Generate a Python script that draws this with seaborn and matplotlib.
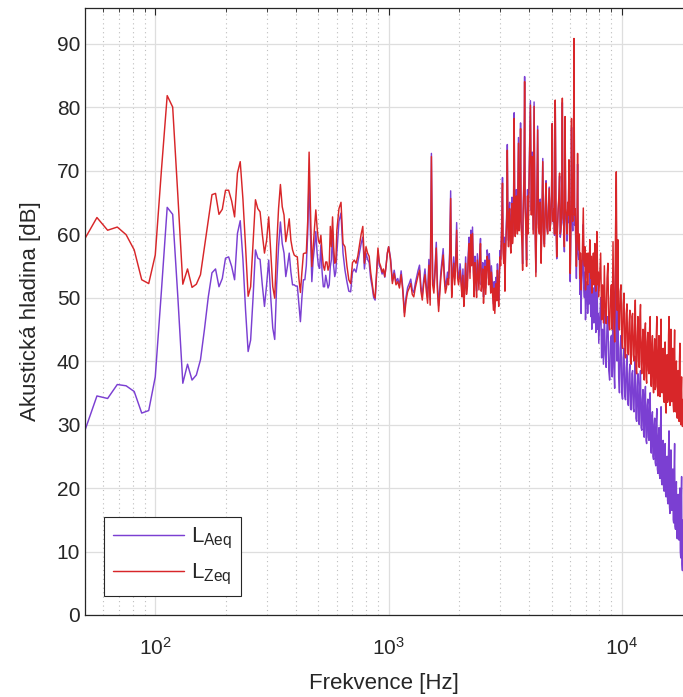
import numpy as np
import pandas as pd
import matplotlib
matplotlib.use("Agg")
import matplotlib.pyplot as plt
import seaborn as sns
from matplotlib.ticker import LogLocator, FixedLocator

# Spektrum akusticke hladiny, FFT s rozlisenim 6.25 Hz
DF_HZ = 6.25
bins_low = np.arange(8, 97)          # 50 - 600 Hz, kazdy bin
bins_600 = np.arange(98, 161, 2)     # 612.5 - 1000 Hz
bins_1k = np.arange(163, 320, 3)     # 1 - 2 kHz
bins_2k = np.arange(324, 637, 3)     # 2 - 4 kHz
bins_4k = np.arange(648, 1273, 6)    # 4 - 8 kHz
bins_8k = np.arange(1296, 2953, 12)  # 8 - 18.5 kHz

# LZeq [dB]
lzeq_low = [59.3, 62.6, 60.6, 61.1, 59.9, 57.5, 52.8, 52.2,
            56.7, 70.0, 81.8, 80.0, 66.0, 52.1, 54.5, 51.6,
            52.1, 53.6, 58.0, 62.2, 66.2, 66.4, 63.1, 63.9,
            66.9, 66.9, 65.2, 62.7, 69.6, 71.4, 65.5, 58.0,
            50.2, 51.7, 58.5, 65.4, 64.0, 63.5, 60.0, 57.0,
            59.0, 62.7, 57.0, 51.7, 49.9, 58.0, 64.0, 67.8,
            64.3, 63.0, 58.8, 60.5, 62.4, 59.0, 57.5, 56.7,
            56.5, 56.4, 53.0, 50.8, 54.0, 56.9, 57.0, 57.0,
            62.0, 72.9, 64.0, 54.9, 58.0, 61.0, 63.8, 61.0,
            59.0, 58.5, 59.8, 57.0, 55.0, 54.3, 55.6, 55.6,
            54.3, 55.0, 61.2, 58.0, 62.7, 58.0, 55.4, 55.6, 60.6]
lzeq_600 = [64.0, 65.0, 58.5, 58.0, 55.0, 52.8, 52.2, 55.5,
            55.9, 55.4, 56.5, 58.3, 60.0, 61.2, 55.4, 58.0,
            57.0, 56.5, 54.0, 52.2, 50.5, 49.9, 54.0, 57.8,
            55.5, 54.9, 54.0, 54.5, 53.3, 55.0, 57.0, 58.0]
lzeq_1k = [55.9, 52.2, 53.8, 52.0, 52.5, 51.5, 53.6, 51.0, 47.0, 49.5,
           50.9, 51.5, 52.2, 50.5, 50.1, 51.5, 52.5, 53.5, 54.3, 51.0,
           49.6, 52.0, 53.6, 51.0, 49.1, 55.1, 48.8, 72.2, 52.0, 50.7,
           54.0, 57.8, 51.0, 47.8, 50.5, 53.3, 55.0, 56.7, 53.0, 50.7,
           51.5, 53.0, 52.0, 56.0, 65.6, 50.0, 53.0, 55.4, 52.0, 55.0,
           60.6, 53.0, 52.0]
lzeq_2k = [54.3, 52.0, 50.1, 53.5, 48.6, 51.0, 55.4, 50.5, 51.7, 56.0,
           58.5, 53.0, 59.9, 55.0, 60.1, 54.0, 50.1, 55.5, 53.0, 50.0,
           55.9, 53.5, 51.2, 56.0, 58.5, 51.0, 52.2, 54.5, 49.1, 52.5,
           54.9, 50.5, 53.3, 56.5, 55.4, 52.0, 55.9, 53.0, 50.7, 54.0,
           52.0, 50.0, 48.0, 51.5, 47.5, 50.0, 52.2, 49.5, 54.3, 51.0,
           48.6, 53.0, 56.4, 55.0, 58.0, 62.0, 68.0, 57.0, 55.4, 58.5,
           51.0, 57.0, 60.0, 62.5, 73.2, 61.0, 58.0, 63.0, 64.0, 59.0,
           57.0, 62.0, 64.8, 58.5, 60.0, 65.0, 78.2, 63.0, 59.6, 64.0,
           66.0, 61.5, 60.0, 66.5, 74.3, 60.5, 62.0, 67.0, 76.6, 61.0,
           60.0, 58.0, 54.3, 63.0, 66.0, 70.0, 84.0, 64.0, 62.0, 59.0,
           54.9, 62.5, 66.0, 60.0, 63.0]
lzeq_4k = [80.3, 63.0, 72.2, 60.0, 80.1, 62.0, 53.3, 64.0, 76.4, 61.0,
           60.0, 65.0, 55.4, 62.0, 71.4, 60.0, 58.0, 64.0, 68.0, 61.0,
           60.0, 63.5, 67.2, 60.5, 62.0, 66.0, 77.4, 62.0, 64.0, 60.0,
           81.1, 63.0, 56.4, 61.0, 64.0, 66.0, 69.6, 60.0, 61.0, 65.0,
           81.4, 62.5, 62.0, 58.0, 78.5, 64.0, 62.7, 60.0, 65.0, 63.0,
           71.7, 61.0, 53.8, 62.0, 78.2, 64.0, 62.0, 67.0, 90.8, 63.0,
           64.0, 60.0, 54.9, 61.0, 72.7, 59.0, 57.5, 60.0, 53.0, 57.0,
           51.2, 55.0, 56.0, 60.0, 64.1, 56.0, 55.0, 58.0, 51.2, 54.0,
           55.9, 57.0, 52.0, 55.5, 57.0, 54.0, 59.1, 55.0, 53.0, 56.5,
           50.7, 53.0, 55.0, 57.0, 52.0, 55.0, 58.5, 54.0, 51.0, 55.0,
           60.4, 56.0, 52.0, 54.0, 50.1]
lzeq_8k = [57.0, 46.5, 52.0, 46.0, 55.0, 47.5, 45.9, 53.0, 55.4, 46.0,
           44.9, 50.0, 52.0, 45.0, 58.8, 47.0, 43.0, 60.0, 69.8, 48.0,
           59.1, 45.5, 44.9, 51.0, 52.0, 43.5, 42.0, 49.0, 50.7, 42.5,
           40.5, 47.5, 49.0, 41.5, 41.0, 46.0, 48.0, 40.0, 39.5, 47.0,
           47.5, 41.0, 40.0, 45.5, 49.6, 39.0, 38.0, 44.0, 47.0, 40.0,
           39.0, 46.5, 48.9, 39.5, 38.0, 43.0, 45.0, 38.5, 37.0, 44.5,
           46.0, 37.5, 36.5, 43.0, 44.5, 38.5, 38.0, 45.0, 47.0, 37.0,
           36.0, 42.0, 44.0, 36.5, 35.0, 41.5, 43.5, 35.5, 36.0, 44.0,
           47.0, 36.0, 34.5, 41.0, 44.0, 35.0, 34.4, 43.0, 46.6, 35.5,
           35.0, 40.0, 42.0, 34.0, 33.5, 41.0, 43.0, 33.0, 31.8, 39.0,
           41.0, 33.5, 34.0, 44.0, 47.0, 34.5, 33.0, 40.0, 45.0, 34.0,
           33.6, 39.5, 42.0, 33.0, 32.0, 41.0, 44.9, 33.5, 32.0, 38.0,
           40.0, 32.0, 31.0, 36.5, 38.5, 31.5, 30.5, 40.0, 42.8, 31.0,
           30.0, 35.0, 37.5, 30.5, 29.7, 33.0, 34.0, 29.5, 30.0]

# LAeq [dB]
laeq_low = [29.1, 34.5, 34.1, 36.3, 36.1, 35.2, 31.8, 32.2,
            37.5, 51.0, 64.2, 63.1, 50.0, 36.5, 39.5, 37.0,
            37.8, 40.2, 45.0, 50.1, 53.9, 54.5, 51.7, 53.0,
            56.2, 56.4, 54.9, 52.8, 60.1, 62.1, 56.0, 48.0,
            41.5, 43.3, 50.0, 57.5, 56.2, 56.0, 52.0, 48.6,
            52.0, 55.9, 50.0, 45.2, 43.4, 52.0, 58.0, 61.9,
            58.5, 57.0, 53.3, 55.0, 57.0, 54.0, 52.0, 52.0,
            51.8, 51.8, 49.0, 46.2, 50.0, 52.8, 52.8, 55.0,
            60.0, 69.0, 60.0, 52.5, 56.0, 58.0, 60.4, 57.0,
            55.0, 54.6, 58.3, 54.0, 51.7, 51.7, 53.5, 52.5,
            51.5, 52.0, 54.9, 56.0, 60.4, 55.0, 53.3, 54.0, 57.0]
laeq_600 = [62.0, 63.3, 57.0, 54.3, 52.5, 51.0, 50.9, 54.0,
            54.5, 54.0, 55.5, 57.0, 58.5, 59.5, 54.5, 57.0,
            56.0, 55.5, 53.0, 51.7, 50.0, 49.6, 53.5, 57.3,
            55.0, 54.6, 53.7, 54.3, 53.2, 55.0, 57.0, 58.0]
laeq_1k = [56.2, 52.6, 54.3, 52.5, 53.0, 52.0, 54.2, 51.5, 47.6, 50.1,
           51.6, 52.2, 52.9, 51.2, 50.8, 52.2, 53.3, 54.3, 55.1, 51.8,
           50.4, 52.8, 54.5, 51.9, 50.0, 56.0, 49.7, 72.7, 52.9, 51.6,
           54.9, 58.7, 51.9, 48.7, 51.4, 54.2, 55.9, 57.7, 54.0, 51.7,
           52.5, 54.0, 53.0, 57.0, 66.8, 51.0, 54.0, 56.4, 53.0, 56.0,
           61.8, 54.1, 53.1]
laeq_2k = [55.3, 53.0, 51.1, 54.5, 49.6, 52.0, 56.4, 51.5, 52.7, 57.0,
           59.5, 54.0, 60.6, 56.0, 61.1, 55.0, 51.1, 56.5, 54.0, 51.0,
           56.9, 54.5, 52.2, 57.0, 59.3, 52.0, 53.2, 55.5, 50.1, 53.5,
           55.9, 51.5, 54.3, 57.5, 56.4, 53.0, 56.9, 54.0, 51.7, 55.0,
           53.0, 51.0, 49.0, 52.5, 48.5, 51.0, 53.2, 50.5, 55.3, 52.0,
           49.6, 54.0, 57.4, 56.0, 59.0, 63.0, 68.9, 58.0, 56.4, 59.5,
           52.0, 58.0, 61.0, 63.5, 74.1, 62.0, 59.0, 64.0, 65.0, 60.0,
           58.0, 63.0, 65.8, 59.5, 61.0, 66.0, 79.1, 64.0, 60.6, 65.0,
           67.0, 62.5, 61.0, 67.5, 75.2, 61.5, 63.0, 68.0, 77.5, 62.0,
           61.0, 59.0, 55.3, 64.0, 67.0, 71.0, 84.8, 65.0, 63.0, 60.0,
           55.9, 63.5, 67.0, 61.0, 64.0]
laeq_4k = [81.0, 63.7, 72.9, 60.7, 80.8, 62.6, 54.0, 64.6, 77.0, 61.6,
           60.6, 65.5, 56.0, 62.5, 71.9, 60.4, 58.4, 64.3, 68.4, 61.3,
           60.3, 63.7, 67.4, 60.6, 62.1, 66.0, 77.4, 61.9, 63.9, 59.8,
           80.9, 62.7, 56.1, 60.7, 63.6, 65.5, 69.1, 59.5, 60.4, 64.4,
           80.7, 61.8, 61.2, 57.2, 77.6, 63.0, 61.7, 58.9, 63.9, 61.8,
           70.5, 59.8, 52.5, 60.7, 76.8, 62.5, 60.5, 65.4, 89.2, 61.4,
           62.4, 58.2, 53.0, 59.0, 71.0, 57.0, 56.0, 56.5, 50.5, 54.0,
           47.5, 52.0, 53.5, 56.5, 61.5, 51.5, 50.0, 54.0, 46.5, 50.0,
           51.5, 52.5, 47.5, 51.0, 52.0, 49.0, 54.5, 50.0, 47.0, 51.5,
           45.0, 47.5, 50.0, 51.5, 46.0, 49.5, 53.0, 48.0, 44.5, 49.0,
           54.0, 49.5, 45.0, 47.5, 42.8]
laeq_8k = [50.0, 40.5, 45.0, 39.5, 48.0, 41.0, 39.0, 46.0, 47.0, 38.5,
           37.0, 43.0, 44.0, 37.5, 50.0, 39.0, 35.7, 52.0, 62.0, 40.0,
           50.0, 37.5, 35.0, 42.0, 44.0, 35.0, 34.0, 40.5, 42.0, 34.5,
           33.9, 39.0, 41.0, 33.5, 33.0, 38.0, 39.5, 32.5, 32.3, 38.0,
           38.5, 32.5, 32.0, 37.5, 40.7, 31.0, 30.5, 36.0, 38.0, 30.5,
           30.0, 36.5, 38.5, 29.5, 29.1, 34.0, 35.5, 28.5, 28.0, 34.5,
           36.0, 27.5, 27.0, 33.0, 34.0, 28.0, 27.5, 33.5, 35.0, 26.5,
           25.5, 31.0, 32.0, 25.0, 24.5, 30.0, 31.0, 24.0, 23.5, 30.5,
           32.5, 23.0, 22.3, 28.0, 29.5, 22.0, 21.5, 30.0, 32.8, 21.0,
           20.5, 26.0, 27.5, 20.0, 19.5, 25.5, 27.0, 19.0, 18.6, 24.0,
           25.0, 18.0, 17.5, 26.0, 29.0, 17.0, 16.0, 23.0, 26.0, 16.5,
           16.5, 21.5, 23.0, 15.0, 14.5, 23.0, 27.0, 14.0, 13.5, 19.5,
           21.0, 12.5, 12.0, 17.5, 19.0, 12.0, 11.8, 18.0, 20.0, 10.0,
           9.0, 18.0, 21.8, 8.0, 7.0, 13.0, 15.0, 6.5, 6.0]

freq = DF_HZ * np.concatenate([bins_low, bins_600, bins_1k, bins_2k, bins_4k, bins_8k])
laeq = np.concatenate([laeq_low, laeq_600, laeq_1k, laeq_2k, laeq_4k, laeq_8k])
lzeq = np.concatenate([lzeq_low, lzeq_600, lzeq_1k, lzeq_2k, lzeq_4k, lzeq_8k])

df = pd.DataFrame({'freq': freq, 'laeq': laeq, 'lzeq': lzeq})

sns.set_style("whitegrid")
plt.rcParams['font.family'] = ['Liberation Sans', 'DejaVu Sans']
plt.rcParams['mathtext.default'] = 'regular'

fig = plt.figure(figsize=(6.83, 6.97), dpi=100)
ax = fig.add_axes([85 / 683, 82 / 697, 598 / 683, 607 / 697])
ax.set_xscale('log')

sns.lineplot(data=df, x='freq', y='laeq', color='#7B3FD2', linewidth=1.05,
             label=r'L$_{Aeq}$', estimator=None, ax=ax)
sns.lineplot(data=df, x='freq', y='lzeq', color='#D82629', linewidth=1.05,
             label=r'L$_{Zeq}$', estimator=None, ax=ax)

ax.set_xlim(50, 18250)
ax.set_ylim(0, 95.6)
ax.yaxis.set_major_locator(FixedLocator(np.arange(0, 91, 10)))
ax.xaxis.set_major_locator(LogLocator(base=10, numticks=10))
ax.xaxis.set_minor_locator(LogLocator(base=10, subs=np.arange(2, 10), numticks=20))

# mrizka ve stylu MATLABu
ax.grid(which='major', color='#dedede', linewidth=0.9, linestyle='-')
ax.grid(which='minor', axis='x', color='#bdbdbd', linewidth=0.8, linestyle=(0, (1, 3)))
ax.grid(which='minor', axis='y', visible=False)

for side in ['left', 'bottom', 'top']:
    ax.spines[side].set_color('#262626')
    ax.spines[side].set_linewidth(0.9)
ax.spines['right'].set_visible(False)

ax.tick_params(which='both', direction='in', top=True, right=False,
               color='#262626', labelcolor='#262626', labelsize=15)
ax.tick_params(which='major', length=5, width=0.8)
ax.tick_params(which='minor', length=3, width=0.6)
ax.tick_params(axis='x', which='major', pad=16)

ax.set_xlabel('Frekvence [Hz]', fontsize=16, color='#262626', labelpad=10)
ax.set_ylabel('Akustická hladina [dB]', fontsize=16, color='#262626', labelpad=11)

leg = ax.legend(loc='lower left', bbox_to_anchor=(0.032, 0.031), borderaxespad=0,
                fontsize=16, handlelength=3.2, handletextpad=0.3, borderpad=0.4,
                labelspacing=0.5, fancybox=False, framealpha=1, edgecolor='#262626')
leg.get_frame().set_linewidth(0.8)

fig.savefig('out.png', dpi=100)
